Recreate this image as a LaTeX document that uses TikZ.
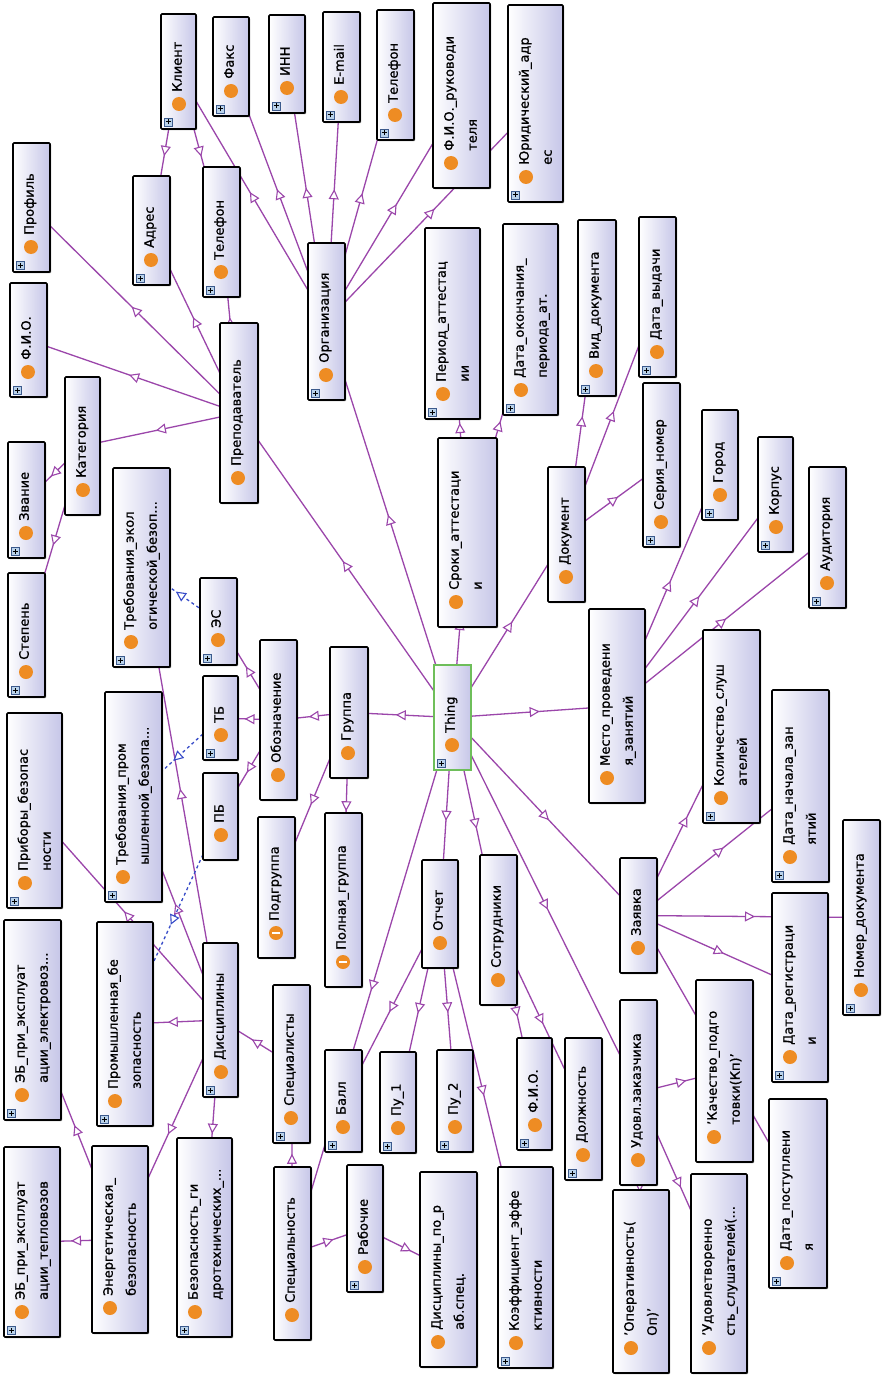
\documentclass[tikz,border=0pt]{standalone}
\usepackage{fontspec}
\setmainfont{DejaVu Sans}[FakeBold=0.9]
\usetikzlibrary{arrows.meta,decorations.markings,shadows}
\definecolor{edgec}{RGB}{155,70,170}
\definecolor{dashc}{RGB}{55,75,200}
\definecolor{boxr}{RGB}{198,198,232}
\definecolor{dotcol}{RGB}{238,140,35}
\definecolor{thingc}{RGB}{110,190,90}
\definecolor{plusf}{RGB}{185,210,235}
\definecolor{plusd}{RGB}{60,90,140}
\pgfdeclarelayer{edges}
\pgfsetlayers{edges,main}
\tikzset{
 clsbox/.style={rectangle, draw=black, line width=1.7pt, inner sep=0pt, rounded corners=1pt, left color=white, right color=boxr,
   drop shadow={shadow xshift=1.2pt, shadow yshift=-1.2pt, opacity=0.55, fill=black}},
 thingbox/.style={rectangle, draw=thingc, line width=1.2pt, inner sep=0pt, left color=white, right color=boxr},
 dotc/.style={circle, fill=dotcol, minimum size=14pt, inner sep=0pt},
 dotm/.style={dotc, path picture={\draw[white, line width=1.6pt] ([xshift=-4pt]path picture bounding box.center) -- ([xshift=4pt]path picture bounding box.center);}},
 plusic/.style={rectangle, draw=plusd, fill=plusf, minimum size=8pt, inner sep=0pt, line width=0.5pt,
   path picture={\draw[black, line width=1pt] ([xshift=-2.5pt]path picture bounding box.center) -- ([xshift=2.5pt]path picture bounding box.center);
                 \draw[black, line width=1pt] ([yshift=-2.5pt]path picture bounding box.center) -- ([yshift=2.5pt]path picture bounding box.center);}},
 lbl/.style={rotate=90, anchor=mid west, inner sep=0pt, font=\fontsize{13}{15}\selectfont},
 isa/.style={draw=edgec, color=edgec, line width=1.3pt, postaction={decorate},
   decoration={markings, mark=at position 0.5 with {\pgftransformxshift{5pt}\arrow{Triangle[length=10pt,width=10pt,fill=white,line width=1.1pt]}}}},
 dis/.style={isa, draw=dashc, color=dashc, dashed},
}
% #1 style, #2 name, #3 x1, #4 y1, #5 x2, #6 y2, #7 line 1, #8 line 2, #9 icon (p plus, n none, m minus dot)
\newcommand\ob[9][clsbox]{%
 \pgfmathsetmacro\obcx{(#3+#5)/2}%
 \pgfmathsetmacro\obcy{-(#4+#6)/2}%
 \pgfmathsetmacro\obw{#5-#3}%
 \pgfmathsetmacro\obh{#6-#4}%
 \node[#1, minimum width=\obw pt, minimum height=\obh pt] (#2) at (\obcx,\obcy) {};%
 \if m#9\node[dotm] (#2-c) at ({#3+18},{-#6+25}) {};\else\node[dotc] (#2-c) at ({#3+18},{-#6+25}) {};\fi
 \node[lbl] (#2-a) at ({#3+18},{-#6+37}) {#7};%
 \if\relax\detokenize{#8}\relax\else\node[lbl] (#2-b) at ({#3+41},{-#6+37}) {#8};\fi
 \if p#9\node[plusic] (#2-p) at ({#3+7},{-#6+7}) {};\fi
}
\begin{document}
\begin{tikzpicture}[x=1pt,y=1pt]
\useasboundingbox (0,0) rectangle (884,-1383);
\ob{klient}{161}{14}{196}{129}{Клиент}{}{p}
\ob{faks}{213}{17}{249}{116}{Факс}{}{p}
\ob{inn}{269}{15}{305}{113}{ИНН}{}{p}
\ob{email}{323}{12}{360}{122}{E-mail}{}{p}
\ob{tel1}{377}{10}{414}{140}{Телефон}{}{p}
\ob{fioruk}{433}{3}{490}{188}{Ф.И.О.\_руководи}{теля}{n}
\ob{yur}{508}{5}{563}{202}{Юридический\_адр}{ес}{p}
\ob{profil}{13}{143}{50}{272}{Профиль}{}{p}
\ob{adres}{133}{176}{170}{285}{Адрес}{}{p}
\ob{tel2}{203}{167}{240}{297}{Телефон}{}{p}
\ob{org}{308}{243}{345}{400}{Организация}{}{p}
\ob{period}{425}{228}{480}{419}{Период\_аттестац}{ии}{p}
\ob{dataok}{503}{224}{558}{415}{Дата\_окончания\_}{периода\_ат.}{p}
\ob{vid}{578}{220}{616}{396}{Вид\_документа}{}{p}
\ob{datavyd}{639}{217}{676}{377}{Дата\_выдачи}{}{p}
\ob{fioa}{10}{283}{47}{397}{Ф.И.О.}{}{p}
\ob{kateg}{65}{377}{100}{515}{Категория}{}{n}
\ob{zvanie}{8}{442}{45}{558}{Звание}{}{p}
\ob{stepen}{8}{573}{45}{697}{Степень}{}{p}
\ob{prep}{220}{323}{258}{503}{Преподаватель}{}{n}
\ob{trebekol}{113}{468}{170}{667}{Требования\_экол}{огической\_безоп...}{p}
\ob{es}{200}{578}{237}{665}{ЭС}{}{p}
\ob{sroki}{438}{438}{497}{627}{Сроки\_аттестаци}{и}{n}
\ob{doc}{548}{467}{585}{602}{Документ}{}{n}
\ob{seriya}{643}{383}{680}{547}{Серия\_номер}{}{p}
\ob{gorod}{702}{410}{738}{520}{Город}{}{p}
\ob{korpus}{758}{437}{793}{552}{Корпус}{}{p}
\ob{aud}{809}{467}{846}{608}{Аудитория}{}{p}
\ob{mesto}{589}{609}{645}{803}{Место\_проведени}{я\_занятий}{n}
\ob{kolvo}{703}{630}{760}{823}{Количество\_слуш}{ателей}{p}
\ob{oboz}{260}{640}{297}{800}{Обозначение}{}{n}
\ob{tb}{203}{676}{238}{760}{ТБ}{}{p}
\ob{pb}{203}{773}{238}{860}{ПБ}{}{n}
\ob{grp}{330}{647}{368}{778}{Группа}{}{n}
\ob[thingbox]{thing}{434}{665}{471}{770}{Thing}{}{p}
\ob{pribory}{7}{713}{62}{908}{Приборы\_безопас}{ности}{p}
\ob{trebprom}{105}{692}{162}{902}{Требования\_пром}{ышленной\_безопа...}{p}
\ob{podgr}{258}{817}{295}{958}{Подгруппа}{}{m}
\ob{polnaya}{325}{813}{362}{987}{Полная\_группа}{}{m}
\ob{otchet}{422}{860}{458}{968}{Отчет}{}{n}
\ob{sotr}{480}{855}{517}{1005}{Сотрудники}{}{n}
\ob{zayavka}{620}{858}{657}{973}{Заявка}{}{n}
\ob{datanach}{772}{690}{829}{882}{Дата\_начала\_зан}{ятий}{p}
\ob{nomer}{843}{820}{880}{1015}{Номер\_документа}{}{p}
\ob{datareg}{772}{893}{828}{1082}{Дата\_регистраци}{и}{p}
\ob{kach}{696}{980}{753}{1162}{'Качество\_подго}{товки(Кп)'}{n}
\ob{udovl}{620}{1000}{657}{1185}{Удовл.заказчика}{}{n}
\ob{datapost}{769}{1099}{827}{1288}{Дата\_поступлени}{я}{p}
\ob{oper}{613}{1190}{669}{1373}{'Оперативность(}{Оп)'}{n}
\ob{udovletv}{691}{1174}{747}{1373}{'Удовлетворенно}{сть\_слушателей(...}{n}
\ob{dolzh}{565}{1038}{602}{1180}{Должность}{}{p}
\ob{fiob}{517}{1038}{552}{1150}{Ф.И.О.}{}{p}
\ob{pub}{437}{1050}{473}{1152}{Пу\_2}{}{p}
\ob{pua}{380}{1052}{416}{1153}{Пу\_1}{}{p}
\ob{ball}{325}{1050}{362}{1152}{Балл}{}{p}
\ob{specialisty}{273}{985}{310}{1143}{Специалисты}{}{p}
\ob{specialnost}{274}{1167}{311}{1340}{Специальность}{}{n}
\ob{rabochie}{347}{1165}{383}{1292}{Рабочие}{}{p}
\ob{discporab}{420}{1172}{477}{1367}{Дисциплины\_по\_р}{аб.спец.}{n}
\ob{koef}{498}{1167}{553}{1368}{Коэффициент\_эффе}{ктивности}{p}
\ob{disc}{203}{943}{238}{1097}{Дисциплины}{}{p}
\ob{prombez}{97}{922}{153}{1126}{Промышленная\_бе}{зопасность}{p}
\ob{ebel}{4}{920}{61}{1120}{ЭБ\_при\_эксплуат}{ации\_электровоз...}{p}
\ob{ebtep}{4}{1147}{60}{1337}{ЭБ\_при\_эксплуат}{ации\_тепловозов}{p}
\ob{energ}{92}{1146}{148}{1333}{Энергетическая\_}{безопасность}{n}
\ob{bezgidro}{177}{1138}{232}{1337}{Безопасность\_ги}{дротехнических\_...}{p}
\begin{pgfonlayer}{edges}
\fill[white] (0,0) rectangle (884,-1383);
\foreach \a/\b in {thing/grp, thing/org, thing/prep, thing/sroki, thing/doc, thing/mesto, thing/zayavka,
  thing/udovl, thing/sotr, thing/otchet, thing/specialnost,
  org/klient, org/faks, org/inn, org/email, org/tel1, org/fioruk, org/yur,
  klient/adres, klient/tel2,
  prep/profil, prep/adres, prep/tel2, prep/fioa, prep/kateg,
  kateg/zvanie, kateg/stepen,
  sroki/period, sroki/dataok,
  doc/vid, doc/datavyd, doc/seriya,
  mesto/gorod, mesto/korpus, mesto/aud,
  zayavka/kolvo, zayavka/datanach, zayavka/nomer, zayavka/datareg, zayavka/datapost,
  udovl/kach, udovl/udovletv, udovl/oper,
  sotr/fiob, sotr/dolzh,
  otchet/ball, otchet/pua, otchet/pub, otchet/koef,
  grp/oboz, grp/podgr, grp/polnaya,
  oboz/tb, oboz/pb, oboz/es,
  specialnost/specialisty, specialnost/rabochie,
  rabochie/discporab,
  specialisty/disc,
  disc/trebekol, disc/trebprom, disc/pribory, disc/prombez, disc/energ, disc/bezgidro,
  energ/ebel, energ/ebtep}
  \draw[isa] (\a.center) -- (\b.center);
\foreach \a/\b in {es/trebekol, tb/trebprom, pb/prombez}
  \draw[dis] (\a.center) -- (\b.center);
\end{pgfonlayer}
\end{tikzpicture}
\end{document}
